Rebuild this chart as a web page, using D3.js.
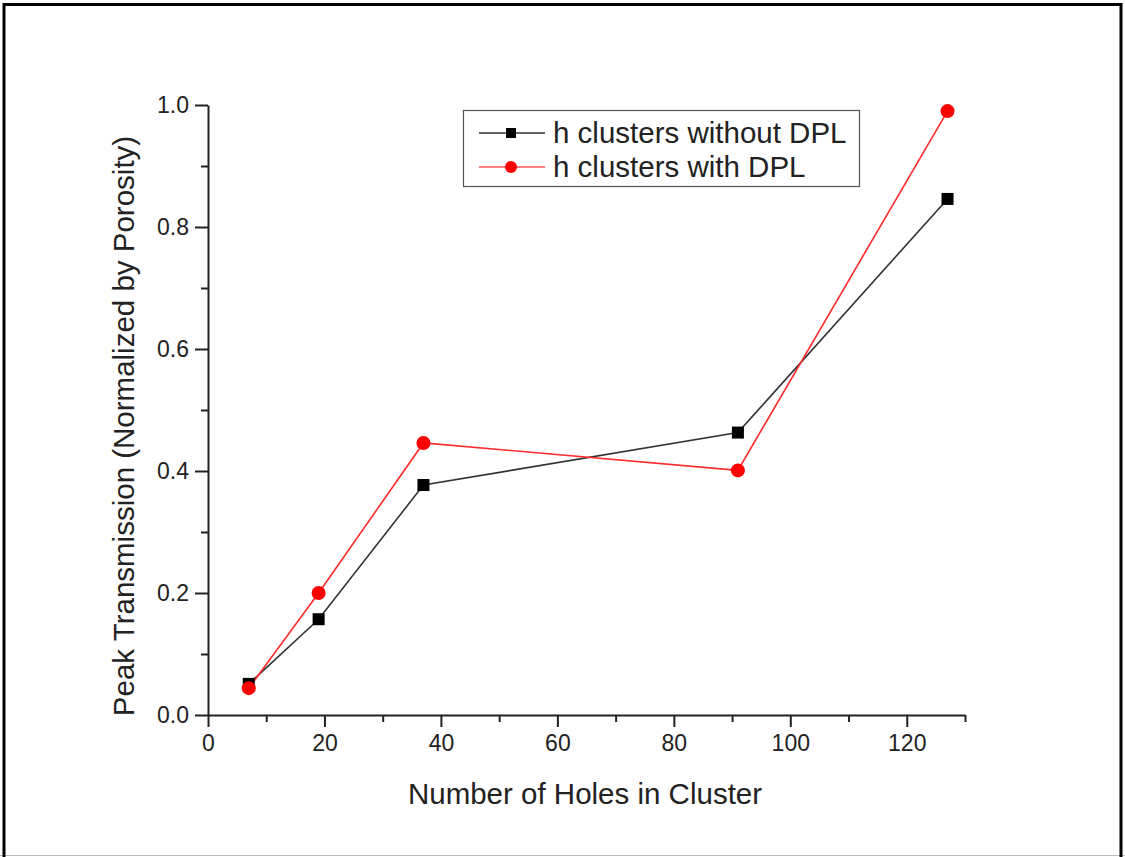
<!DOCTYPE html>
<html>
<head>
<meta charset="utf-8">
<script src="https://cdn.jsdelivr.net/npm/d3@7"></script>
<style>
  html, body { margin: 0; padding: 0; background: #fff; }
  svg { display: block; font-family: "Liberation Sans", Arial, sans-serif; }
</style>
</head>
<body>
<svg id="chart" width="1125" height="857"></svg>
<script>
// Cluster sizes (number of holes) and normalized peak transmission
const holes = [7, 19, 37, 91, 127];
const withoutDPL = [0.051, 0.157, 0.377, 0.463, 0.846];
const withDPL = [0.044, 0.200, 0.446, 0.401, 0.990];

const xTicks = [0, 20, 40, 60, 80, 100, 120];
const xMinorTicks = [10, 30, 50, 70, 90, 110, 130];
const yTicks = [0.0, 0.2, 0.4, 0.6, 0.8, 1.0];
const yMinorTicks = [0.1, 0.3, 0.5, 0.7, 0.9];

const seriesNames = ["h clusters without DPL", "h clusters with DPL"];

const svg = d3.select("#chart");
const W = 1125, H = 857;

// Outer frame
svg.append("line").attr("x1", 0).attr("x2", W).attr("y1", 855.5).attr("y2", 855.5)
  .attr("stroke", "#bbb").attr("stroke-width", 1);
svg.append("path")
  .attr("d", `M4,857 V4.5 H1121 V857`)
  .attr("fill", "none").attr("stroke", "#000").attr("stroke-width", 3);

const x = d3.scaleLinear().domain([0, 130]).range([208, 965]);
const y = d3.scaleLinear().domain([0, 1.0]).range([715, 105]);

const axisColor = "#222";
const textColor = "#222";

// X axis
const gx = svg.append("g").attr("transform", `translate(0,${y(0)})`);
gx.call(d3.axisBottom(x).tickValues(xTicks).tickFormat(d3.format("d")).tickSize(12).tickSizeOuter(0).tickPadding(8));
gx.append("g").call(d3.axisBottom(x).tickValues(xMinorTicks).tickFormat("").tickSize(7).tickSizeOuter(0))
  .select(".domain").remove();
gx.selectAll("line, path").attr("stroke", axisColor).attr("stroke-width", 2);
gx.selectAll("text").attr("font-size", 23).attr("fill", textColor)
  .attr("font-family", "Liberation Sans, Arial, sans-serif");

// Y axis
const gy = svg.append("g").attr("transform", `translate(${x(0)},0)`);
gy.call(d3.axisLeft(y).tickValues(yTicks).tickFormat(d3.format(".1f")).tickSize(13).tickSizeOuter(0).tickPadding(6));
gy.append("g").call(d3.axisLeft(y).tickValues(yMinorTicks).tickFormat("").tickSize(7).tickSizeOuter(0))
  .select(".domain").remove();
gy.selectAll("line, path").attr("stroke", axisColor).attr("stroke-width", 2);
gy.selectAll("text").attr("font-size", 23).attr("fill", textColor)
  .attr("font-family", "Liberation Sans, Arial, sans-serif");

// Axis titles
svg.append("text")
  .attr("x", 585).attr("y", 804)
  .attr("text-anchor", "middle")
  .attr("font-size", 29.5).attr("fill", textColor)
  .text("Number of Holes in Cluster");

svg.append("text")
  .attr("transform", `translate(134,426) rotate(-90)`)
  .attr("text-anchor", "middle")
  .attr("font-size", 29.5).attr("fill", textColor)
  .text("Peak Transmission (Normalized by Porosity)");

// Series lines
const line = d3.line().x(d => x(d[0])).y(d => y(d[1]));
const blackPts = holes.map((h, i) => [h, withoutDPL[i]]);
const redPts = holes.map((h, i) => [h, withDPL[i]]);

svg.append("path").datum(blackPts).attr("d", line)
  .attr("fill", "none").attr("stroke", "#333").attr("stroke-width", 1.6);
svg.append("path").datum(redPts).attr("d", line)
  .attr("fill", "none").attr("stroke", "#ff2a2a").attr("stroke-width", 1.6);

// Markers
svg.selectAll(".sq").data(blackPts).enter().append("rect")
  .attr("x", d => x(d[0]) - 6).attr("y", d => y(d[1]) - 6)
  .attr("width", 12).attr("height", 12).attr("fill", "#000");
svg.selectAll(".ci").data(redPts).enter().append("circle")
  .attr("cx", d => x(d[0])).attr("cy", d => y(d[1])).attr("r", 7)
  .attr("fill", "#ff0000");

// Legend
const lg = svg.append("g");
lg.append("rect").attr("x", 463.5).attr("y", 110.5).attr("width", 396).attr("height", 76)
  .attr("fill", "#fff").attr("stroke", "#555").attr("stroke-width", 1.2);
const rows = [133, 167];
// row 1: black squares
lg.append("line").attr("x1", 479).attr("x2", 545).attr("y1", rows[0]).attr("y2", rows[0])
  .attr("stroke", "#333").attr("stroke-width", 1.4);
lg.append("rect").attr("x", 511 - 5).attr("y", rows[0] - 5).attr("width", 10).attr("height", 10).attr("fill", "#000");
// row 2: red circles
lg.append("line").attr("x1", 479).attr("x2", 545).attr("y1", rows[1]).attr("y2", rows[1])
  .attr("stroke", "#ff5555").attr("stroke-width", 1.6);
lg.append("circle").attr("cx", 511).attr("cy", rows[1]).attr("r", 6).attr("fill", "#ff0000");
seriesNames.forEach((name, i) => {
  lg.append("text").attr("x", 553).attr("y", rows[i] + 10)
    .attr("font-size", 29.5).attr("fill", textColor).text(name);
});
</script>
</body>
</html>
